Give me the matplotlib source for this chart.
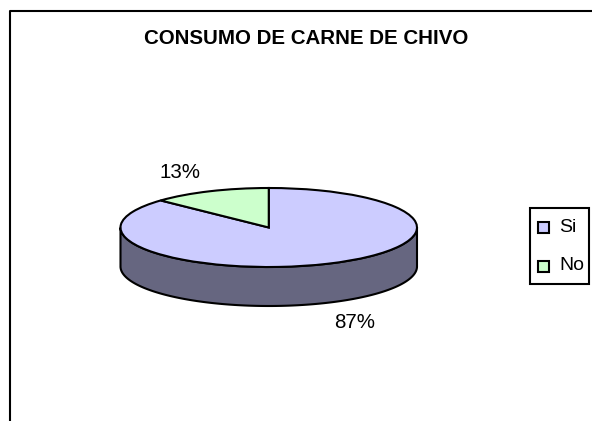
#!/usr/bin/env python

from matplotlib import pyplot as plt
from matplotlib.patches import Rectangle
import numpy as np

title = "CONSUMO DE CARNE DE CHIVO"
categories = ["Si", "No"]
values = [87, 13]
colors = ["#ccccff", "#ccffcc"]
side_color = "#666680"

W, H = 592, 421
plt.rcParams["font.family"] = ["Liberation Sans", "DejaVu Sans"]

fig = plt.figure(figsize=(W / 100, H / 100), dpi=100)

# overlay in image pixels, y pointing down
bg = fig.add_axes([0, 0, 1, 1])
bg.set_xlim(0, W)
bg.set_ylim(H, 0)
bg.axis("off")

# chart border, only left and top are inside the image
bg.plot([9.5, 9.5, W + 5], [H + 5, 11, 11], color="black", lw=1.5, clip_on=False)
bg.text(306.5, 38.5, title, ha="center", va="center", fontsize=14.8, fontweight="bold")

# pie top is a squashed circle
left, right, top, bottom = 120.5, 417, 188, 267
ax = fig.add_axes([left / W, 1 - bottom / H, (right - left) / W, (bottom - top) / H])
depth = 39 / ((bottom - top) / 2)

t = np.linspace(np.pi, 2 * np.pi, 200)
sx = np.concatenate([np.cos(t), np.cos(t[::-1])])
sy = np.concatenate([np.sin(t) - depth, np.sin(t[::-1])])
ax.fill(sx, sy, facecolor=side_color, edgecolor="black", lw=1.5, clip_on=False, zorder=1)

wedges, _ = ax.pie(values, colors=colors, startangle=90, counterclock=False, radius=1,
                   wedgeprops={"edgecolor": "black", "linewidth": 1.5, "clip_on": False, "zorder": 2})
ax.set_aspect("auto")
ax.set_xlim(-1, 1)
ax.set_ylim(-1, 1)

# percent labels
bg.text(180, 173, f"{values[1]}%", ha="center", va="center", fontsize=14.8)
bg.text(355, 322.5, f"{values[0]}%", ha="center", va="center", fontsize=14.8)

# legend
bg.add_patch(Rectangle((529.5, 207.5), 59, 76, facecolor="white", edgecolor="black", lw=1.5, zorder=3))
for name, c, y in zip(categories, colors, [227.5, 266]):
    bg.add_patch(Rectangle((538, y - 5.5), 11, 11, facecolor=c, edgecolor="black", lw=1.5, zorder=4))
    bg.text(559, y, name, ha="left", va="center", fontsize=14, zorder=4)

fig.savefig("out.png", dpi=100)
